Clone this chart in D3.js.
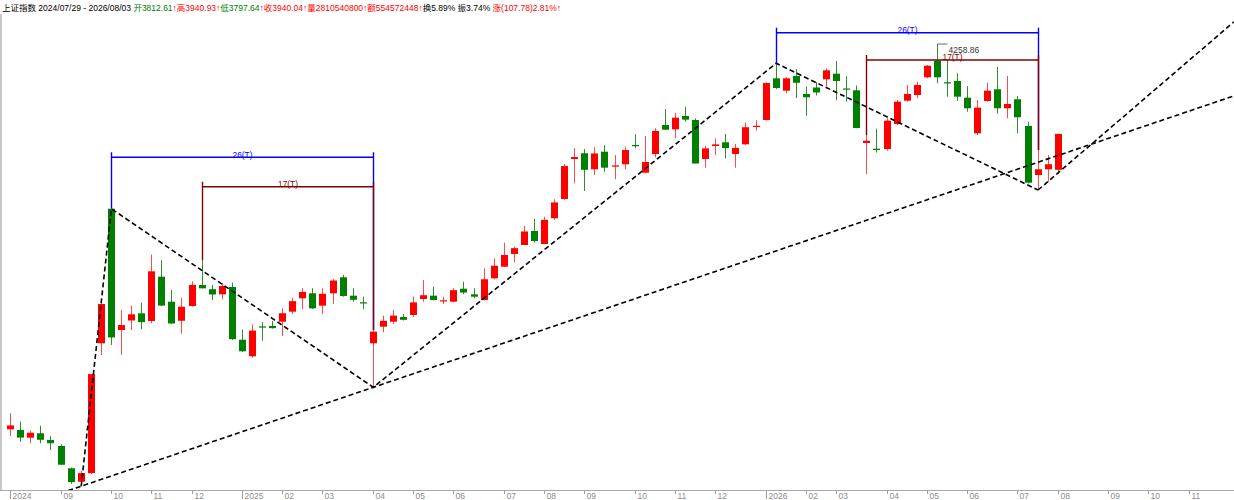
<!DOCTYPE html>
<html><head><meta charset="utf-8">
<script src="https://cdn.jsdelivr.net/npm/d3@7/dist/d3.min.js"></script>
<style>html,body{margin:0;padding:0;background:#fff;overflow:hidden}svg{display:block}</style>
</head><body>
<svg id="chart" width="1234" height="500"></svg>
<script>
// ---- weekly candles, 2024/07/29 .. 2026/08/03 (index = week number) ----
const opens = [2891.7,2889.2,2861.9,2877.5,2853.6,2832.4,2753.2,2705.7,2736.0,3196.8,
3674.4,3244.0,3277.8,3303.3,3276.0,3433.2,3344.5,3276.7,3329.2,3403.8,
3388.9,3370.7,3396.6,3209.6,3150.7,3256.8,3258.2,3273.5,3309.0,3356.5,
3374.3,3330.3,3374.3,3431.1,3365.8,3342.4,3196.8,3255.8,3273.5,3290.1,
3297.3,3354.1,3365.8,3345.9,3344.5,3390.6,3370.7,3350.5,3427.5,3468.7,
3513.8,3545.7,3595.4,3549.3,3640.5,3709.0,3850.9,3871.2,3814.4,3876.8,
3823.6,3832.1,3900.6,3802.3,3868.7,3971.6,3956.3,4003.5,3989.3,3850.9,
3897.1,3910.2,3868.7,3903.1,3965.6,3989.3,4137.3,4093.3,4145.5,4081.6,
4104.7,4133.8,4153.6,4101.1,4094.7,3907.7,3887.5,3886.4,3975.1,4057.8,
4078.1,4140.9,4199.8,4123.1,4127.7,4068.5,3942.1,4056.8,4098.3,4030.9,
4062.8,3968.0,3794.1,3814.4,3812.61];
const highs = [2948.5,2918.6,2886.7,2904.4,2868.0,2838.4,2755.3,2743.6,3087.5,3338.8,
3674.4,3315.0,3330.3,3341.6,3511.6,3491.4,3386.0,3357.6,3416.9,3492.4,
3403.8,3410.9,3412.6,3245.1,3263.6,3271.7,3276.0,3321.1,3358.7,3392.0,
3392.0,3392.0,3425.0,3439.2,3392.0,3362.2,3244.0,3294.8,3315.0,3300.8,
3362.2,3421.5,3397.7,3362.2,3392.0,3415.6,3392.0,3463.0,3498.5,3553.9,
3539.7,3613.1,3638.0,3646.2,3707.9,3833.2,3888.9,3886.4,3892.4,3900.6,
3865.1,3894.6,3938.6,3932.6,3959.9,4028.4,4015.2,4036.6,3995.4,3897.1,
3924.4,3939.7,3904.1,3980.5,3988.3,4123.1,4190.6,4141.9,4169.6,4107.5,
4124.2,4172.8,4198.7,4144.4,4111.8,3936.1,3958.5,3995.4,4060.3,4113.6,
4125.3,4184.5,4258.86,4202.3,4155.1,4110.0,4060.3,4121.7,4177.4,4145.5,
4074.5,3983.3,3882.9,3865.1,3940.93];
const lows = [2867.9,2847.6,2841.9,2841.9,2818.2,2767.4,2698.0,2689.7,2733.0,3155.3,
3190.8,3155.3,3244.0,3246.9,3267.8,3329.0,3266.0,3231.3,3326.7,3391.3,
3350.5,3353.0,3208.6,3166.0,3145.4,3206.1,3249.0,3222.8,3300.8,3318.6,
3318.0,3300.8,3336.3,3362.2,3344.5,3317.5,3040.7,3236.2,3265.3,3277.8,
3290.1,3344.5,3348.7,3336.3,3342.4,3370.7,3356.5,3348.7,3424.0,3467.3,
3484.3,3545.7,3554.6,3549.3,3634.4,3706.5,3764.7,3737.4,3794.1,3805.8,
3778.9,3814.4,3888.9,3802.3,3856.9,3953.8,3924.4,3983.3,3834.9,3820.0,
3865.1,3853.4,3820.0,3900.6,3951.0,3987.0,4099.4,4084.1,4067.4,4004.6,
4076.3,4107.5,4059.3,4054.3,3959.9,3797.7,3874.0,3880.4,3971.6,4054.3,
4066.4,4137.3,4119.6,4072.0,4056.8,4018.8,3936.1,4054.3,4011.7,3995.4,
3942.1,3764.0,3740.9,3770.4,3797.64];
const closes = [2905.3,2862.2,2879.4,2854.4,2842.2,2765.8,2704.1,2736.0,3087.5,3336.5,
3217.7,3261.6,3299.7,3272.0,3452.3,3330.7,3267.2,3326.5,3404.1,3391.9,
3370.0,3400.1,3211.4,3168.5,3241.8,3252.6,3250.6,3303.7,3346.4,3379.1,
3320.9,3372.5,3419.6,3364.8,3351.3,3339.9,3238.2,3276.7,3295.1,3280.2,
3342.0,3367.5,3350.5,3349.5,3385.4,3377.0,3362.2,3424.2,3472.1,3510.2,
3534.5,3593.7,3559.9,3635.1,3696.8,3825.8,3857.9,3812.5,3870.6,3820.1,
3828.1,3882.8,3897.0,3840.3,3950.3,3954.8,3997.6,3990.5,3834.9,3888.6,
3902.8,3889.4,3890.4,3963.7,3968.8,4120.4,4102.9,4137.3,4121.4,4069.9,
4087.0,4165.7,4127.7,4097.6,3960.9,3915.9,3882.9,3986.9,4054.3,4081.6,
4113.6,4182.1,4140.9,4119.6,4072.0,4030.9,4033.0,4093.3,4030.9,4046.1,
3999.0,3766.8,3814.4,3832.26,3940.04];

// ---- bottom axis tick labels (week index, text) ----
const tickIdx  = [0,5,10,14,18,23,27,31,36,40,44,49,53,57,62,66,70,75,79,82,87,91,95,100,104,109,113,117];
const tickText = ["2024","09","10","11","12","2025","02","03","04","05","06","07","08","09","10","11","12","2026","02","03","04","05","06","07","08","09","10","11"];

// ---- wave (zig-zag) pivots: week index and which price ----
const waveIdx  = [7,10,36,76,102];
const waveKind = ["low","high","low","high","low"];
// long trend line through two lows
const trendIdx = [7,36];
// ray from the last pivot low (second anchor, week index / price)
const rayIdx = [102,121];
const rayPrice = [3740.9,4324];

// ---- time-count brackets ----
const brFrom  = [10,19,76,85];
const brTo    = [36,36,102,102];
const brLevel = [3857.0,3752.6,4299.2,4202.3];
const brLabel = ["26(T)","17(T)","26(T)","17(T)"];

// ---- header parts: [text, colour] ----
const headerParts = [
  ["上证指数 2024/07/29 - 2026/08/03 ","k"],
  ["开3812.61","g"],["↑","r"],["高3940.93↑","r"],["低3797.64","g"],["↑","r"],
  ["收3940.04↑","r"],["量2810540800↑","r"],["额554572448↑","r"],
  ["换5.89% ","k"],["振3.74% ","k"],["涨(107.78)2.81%↑","r"]
];
const highLabel = "4258.86";
const highIdx = 92;

// ================= drawing =================
const W = 1234, H = 500;
const svg = d3.select("#chart");
const FONT = "'Liberation Sans', Arial, 'Noto Sans CJK SC', sans-serif";
const RED = "#ff0000", GREEN = "#008000";
const RED_W = "#ff4a4a", GREEN_W = "#2f8f2f";
const colorOf = {k:"#000000", g:"#008000", r:"#ff0000"};

const x = d3.scaleLinear().domain([-1.062, 121.45]).range([0, W]);
const y = d3.scaleLinear().domain([2676.2, 4344.2]).range([490, 20]);

const data = opens.map((o,i)=>({i, o, h:highs[i], l:lows[i], c:closes[i]}));
const cx = i => Math.floor(x(i)) + 0.5;
const priceOf = (i,k) => k === "low" ? lows[i] : highs[i];

// header
const ht = svg.append("text").attr("x",2).attr("y",10.5)
  .attr("font-family",FONT).attr("font-size","8.5px");
headerParts.forEach(p=>ht.append("tspan").attr("fill",colorOf[p[1]]).text(p[0]));

// left border
svg.append("line").attr("x1",1).attr("x2",1).attr("y1",14).attr("y2",490)
  .attr("stroke","#c8c8c8").attr("stroke-width",2);

// bottom axis
svg.append("line").attr("x1",0).attr("x2",W).attr("y1",490.5).attr("y2",490.5)
  .attr("stroke","#a8a8a8").attr("stroke-width",1);
const ax = svg.append("g");
tickIdx.forEach((ti,k)=>{
  const isYear = tickText[k].length === 4;
  const tx = cx(ti);
  ax.append("line").attr("x1",tx).attr("x2",tx).attr("y1",491).attr("y2",isYear?499:494)
    .attr("stroke","#9a9a9a").attr("stroke-width",1);
  ax.append("text").attr("x",tx+2).attr("y",499).attr("font-family",FONT)
    .attr("font-size","8.5px").attr("fill","#8c8c8c").text(tickText[k]);
});

// candles
const cg = svg.append("g");
data.forEach(d=>{
  const up = d.c >= d.o;
  const col = up ? RED : GREEN;
  const X = cx(d.i);
  cg.append("line").attr("x1",X).attr("x2",X).attr("y1",y(d.h)).attr("y2",y(d.l))
    .attr("stroke",up ? RED_W : GREEN_W).attr("stroke-width",1);
  const top = y(Math.max(d.o,d.c)), bot = y(Math.min(d.o,d.c));
  cg.append("rect").attr("x",X-3.5).attr("width",7)
    .attr("y",top).attr("height",Math.max(1.2,bot-top)).attr("fill",col);
});

// clip for dashed lines
svg.append("clipPath").attr("id","plot").append("rect")
  .attr("x",0).attr("y",15).attr("width",W).attr("height",475);
const lg = svg.append("g").attr("clip-path","url(#plot)")
  .attr("fill","none").attr("stroke","#000").attr("stroke-width",1.6)
  .attr("stroke-dasharray","5,3");
const line = d3.line().x(d=>x(d[0])).y(d=>y(d[1]));

// zig-zag
lg.append("path").attr("d", line(waveIdx.map((wi,k)=>[wi, priceOf(wi,waveKind[k])])));
// long trend line through the two lows, extended across the plot
{
  const [a,b] = trendIdx;
  const pa = lows[a], pb = lows[b], s = (pb-pa)/(b-a);
  const i0 = x.domain()[0], i1 = x.domain()[1];
  lg.append("path").attr("d", line([[i0, pa+(i0-a)*s],[i1, pa+(i1-a)*s]]));
}
// ray from the last low
{
  const [a,b] = rayIdx, s = (rayPrice[1]-rayPrice[0])/(b-a);
  const i1 = x.domain()[1];
  lg.append("path").attr("d", line([[a, rayPrice[0]],[i1, rayPrice[0]+(i1-a)*s]]));
}

// brackets
const brColor = ["#0000ff","#800000","#0000ff","#800000"];
const bg = svg.append("g");
brFrom.forEach((f,k)=>{
  const t = brTo[k], ly = y(brLevel[k]), col = brColor[k];
  const xf = cx(f), xt = cx(t);
  bg.append("line").attr("x1",xf).attr("x2",xt).attr("y1",ly).attr("y2",ly)
    .attr("stroke",col).attr("stroke-width",1.4);
  bg.append("line").attr("x1",xf).attr("x2",xf).attr("y1",ly-5).attr("y2",y(highs[f]))
    .attr("stroke",col).attr("stroke-width",1.4);
  bg.append("line").attr("x1",xt).attr("x2",xt).attr("y1",ly-5).attr("y2",y(highs[t]))
    .attr("stroke",col).attr("stroke-width",1.4);
  bg.append("text").attr("x",(xf+xt)/2).attr("y",ly+0.5).attr("text-anchor","middle")
    .attr("font-family",FONT).attr("font-size","8.3px").attr("fill",col).text(brLabel[k]);
});

// high marker
{
  const X = cx(highIdx), Y = y(highs[highIdx]);
  svg.append("line").attr("x1",X).attr("x2",X+10).attr("y1",Y).attr("y2",Y)
    .attr("stroke","#607060").attr("stroke-width",1);
  svg.append("text").attr("x",X+11).attr("y",Y+8.5).attr("font-family",FONT)
    .attr("font-size","8.5px").attr("fill","#333").text(highLabel);
}
</script>
</body></html>
